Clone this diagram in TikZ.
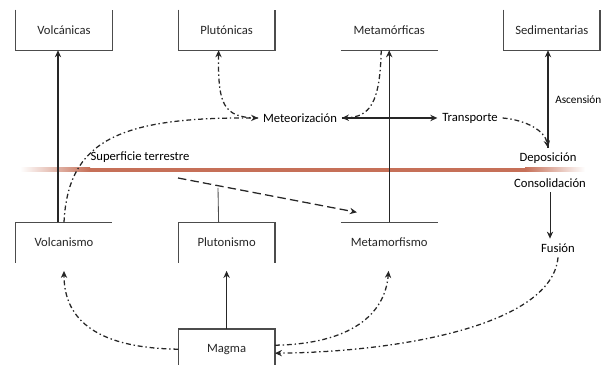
\documentclass[tikz,border=0pt]{standalone}
\usepackage{fontspec}
\setmainfont{Carlito}
\usepackage{tikz}
\usetikzlibrary{positioning}
\usetikzlibrary{arrows.meta}
\definecolor{superficie}{RGB}{198,112,88}

\begin{document}
\begin{tikzpicture}[x=0.025cm, y=0.025cm, font=\small]
    % Styles:
    \tikzset{caja/.style={minimum width=2.4cm, minimum height=1cm, inner sep=0pt, text=black!85}}
    \tikzset{borde/.style={line width=1pt, draw=black!70}}
    \tikzset{flecha/.style={-{Stealth[length=5pt, width=4.5pt]}, line width=0.9pt, draw=black!85}}
    \tikzset{punteada/.style={flecha, dash pattern=on 3.5pt off 2pt on 1pt off 2pt}}
    \tikzset{rayada/.style={flecha, dash pattern=on 6pt off 3pt}}
    \tikzset{node distance = 4.3cm and 1.65cm}

    \useasboundingbox (0,0) rectangle (603,365);

    % Rocks:
    \node[caja] (volcanicas) at (64,335) {Volcánicas};
    \node[caja] (plutonicas)    [right = of volcanicas] {Plutónicas};
    \node[caja] (metamorficas)  [right = of plutonicas] {Metamórficas};
    \node[caja] (sedimentarias) [right = of metamorficas] {Sedimentarias};

    % Processes:
    \node[caja] (volcanismo)   [below = of volcanicas] {Volcanismo};
    \node[caja] (plutonismo)   [right = of volcanismo] {Plutonismo};
    \node[caja] (metamorfismo) [right = of plutonismo] {Metamorfismo};
    \node[caja] (magma)        [below = 1.65cm of plutonismo] {Magma};

    % Box edges:
    \draw[borde] (volcanicas.north west) -- (volcanicas.south west) -- (volcanicas.south east) -- (volcanicas.north east);
    \draw[borde] (plutonicas.north west) -- (plutonicas.south west) -- (plutonicas.south east) -- (plutonicas.north east);
    \draw[borde] (metamorficas.south west) -- (metamorficas.south east);
    \draw[borde] (sedimentarias.north west) -- (sedimentarias.south west) -- (sedimentarias.south east) -- (sedimentarias.north east);
    \draw[borde] (volcanismo.south west) -- (volcanismo.north west) -- (volcanismo.north east);
    \draw[borde] (plutonismo.south west) -- (plutonismo.north west) -- (plutonismo.north east) -- (plutonismo.south east);
    \draw[borde] (metamorfismo.north west) -- (metamorfismo.north east);
    \draw[borde] (magma.south west) rectangle (magma.north east);

    % Earth surface:
    \shade[left color=white, right color=superficie] (20,193) rectangle (90,197);
    \fill[superficie] (90,193) rectangle (525,197);
    \shade[left color=superficie, right color=white] (525,193) rectangle (585,197);

    % Labels:
    \node (meteo)   at (300,247) {Meteorización};
    \node (transp)  at (470,247) {Transporte};
    \node (depos)   at (548,207) {Deposición};
    \node (consol)  at (550,182) {Consolidación};
    \node (fusion)  at (558,117) {Fusión};
    \node (ascenso) [anchor=east, inner xsep=1pt, font=\footnotesize] at (603,265) {Ascensión};
    \node (superf)  at (140,208) {Superficie terrestre};
    \coordinate (subduc) at (178,187);
    \coordinate (corte)  at (218,177);

    % Arrows:
    \draw[flecha] ([xshift=-0.15cm]volcanismo.north) -- ([xshift=-0.15cm]volcanicas.south);
    \draw[punteada] (volcanismo.north) .. controls (68,225) and (120,248) .. (meteo.west);
    \draw[punteada] (meteo.west) .. controls (222,247) and (218,262) .. ([xshift=-0.2cm]plutonicas.south);
    \draw[punteada] ([xshift=-0.2cm]metamorficas.south) .. controls (380,262) and (370,248) .. (meteo.east);
    \draw[flecha] (metamorfismo.north) -- (metamorficas.south);
    \draw[flecha] (meteo.east) -- (transp.west);
    \draw[punteada] (transp.east) .. controls (525,245) and (545,235) .. (depos.north);
    \draw[flecha] (depos.north) -- (depos.north |- sedimentarias.south);
    \draw[flecha, line width=0.6pt] (consol.south) -- (consol.south |- fusion.north);
    \draw[rayada] (subduc) -- ([xshift=0.4cm, yshift=0.25cm]metamorfismo.north west);
    \draw[borde, line width=0.6pt] (corte) -- ([xshift=-0.2cm]plutonismo.north);
    \draw[flecha, shorten >=0.2cm] (magma.north) -- (plutonismo.south);
    \draw[punteada, shorten >=0.2cm] (magma.west) .. controls (90,17) and (64,50) .. (volcanismo.south);
    \draw[punteada, shorten >=0.2cm] ([yshift=0.1cm]magma.east) .. controls (350,21) and (385,50) .. (metamorfismo.south);
    \draw[punteada] (fusion.south) .. controls (552,40) and (400,13) .. ([yshift=-0.1cm]magma.east);
\end{tikzpicture}
\end{document}
